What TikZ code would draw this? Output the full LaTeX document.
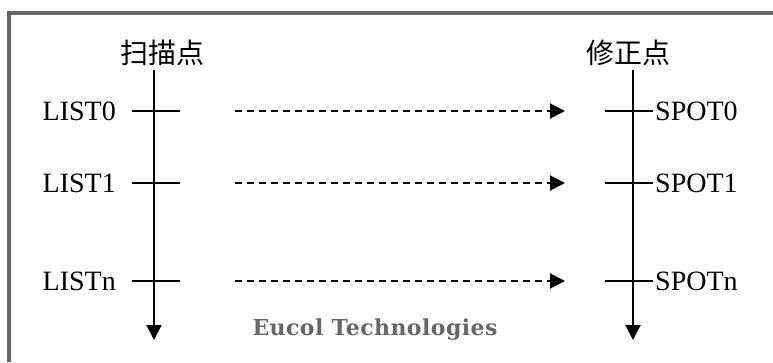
\documentclass[tikz,border=0pt]{standalone}
\usepackage{fontspec}
\setmainfont{Liberation Serif}
\newfontfamily\cjk{Noto Sans CJK SC}
\newfontfamily\brand[LetterSpace=2]{DejaVu Serif}
\usetikzlibrary{arrows.meta}
\definecolor{framegray}{HTML}{666666}
\begin{document}
\begin{tikzpicture}[x=1pt,y=1pt,
  every node/.style={inner sep=0pt,font=\fontsize{28}{30}\selectfont},
  axis/.style={line width=2pt,-{Triangle[length=15pt,width=15pt]}},
  tick/.style={line width=2pt},
  link/.style={line width=2pt,dash pattern=on 7pt off 5pt,
    -{Triangle[length=15pt,width=15pt]}}]
\useasboundingbox (0,0) rectangle (773,362);
\draw[line width=4pt,framegray] (9,0) -- (9,348.5) -- (773,348.5);
% axes
\node (scan) at (162,309) {\cjk 扫描点};
\node (fix) at (628,309) {\cjk 修正点};
\coordinate (scantop) at (154,292);
\coordinate (scanend) at (154,22);
\coordinate (fixtop) at (633,292);
\coordinate (fixend) at (633,22);
\draw[axis] (scantop) -- (scanend);
\draw[axis] (fixtop) -- (fixend);
% rows
\node[anchor=east] (list0) at (116,251) {LIST0};
\node[anchor=east] (list1) at (116,179) {LIST1};
\node[anchor=east] (listn) at (116,81) {LISTn};
\node[anchor=west] (spot0) at (655,251) {SPOT0};
\node[anchor=west] (spot1) at (655,179) {SPOT1};
\node[anchor=west] (spotn) at (655,81) {SPOTn};
\draw[tick] (132,251) coordinate (l0a) -- (180,251) coordinate (l0b);
\draw[tick] (132,179) coordinate (l1a) -- (180,179) coordinate (l1b);
\draw[tick] (132,81) coordinate (lna) -- (180,81) coordinate (lnb);
\draw[tick] (605,251) coordinate (s0a) -- (653,251) coordinate (s0b);
\draw[tick] (605,179) coordinate (s1a) -- (653,179) coordinate (s1b);
\draw[tick] (605,81) coordinate (sna) -- (653,81) coordinate (snb);
\coordinate (from0) at (235,251);
\coordinate (to0) at (565,251);
\coordinate (from1) at (235,179);
\coordinate (to1) at (565,179);
\coordinate (fromn) at (235,81);
\coordinate (ton) at (565,81);
\draw[link] (from0) -- (to0);
\draw[link] (from1) -- (to1);
\draw[link] (fromn) -- (ton);
\node[font=\brand\bfseries\fontsize{22}{26}\selectfont,text=framegray] (mark) at (375,32) {Eucol Technologies};
\end{tikzpicture}
\end{document}
